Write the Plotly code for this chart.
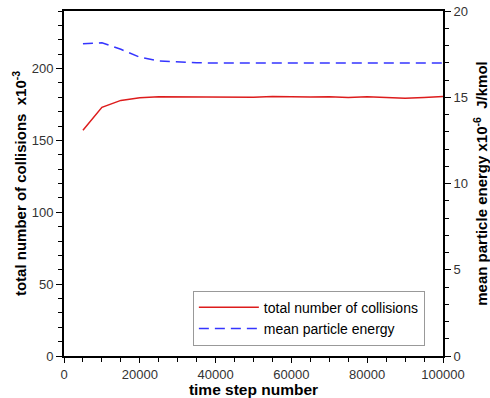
import plotly.graph_objects as go

steps = [5000, 10000, 15000, 20000, 25000, 30000, 35000, 40000, 45000, 50000,
         55000, 60000, 65000, 70000, 75000, 80000, 85000, 90000, 95000, 100000]
collisions = [157, 173, 177.8, 179.6, 180.3, 180.2, 180.0, 180.0, 179.6, 180.0,
              180.6, 180.2, 180.2, 180.3, 179.8, 180.3, 180.0, 179.3, 179.9, 180.6]
energy = [18.1, 18.16, 17.78, 17.32, 17.1, 17.04, 17.0, 16.98, 16.98, 16.98,
          16.98, 16.98, 16.98, 16.98, 16.98, 16.98, 16.98, 16.98, 16.98, 16.98]

font_family = "Liberation Sans, Arial, sans-serif"

fig = go.Figure()
fig.add_trace(go.Scatter(x=steps, y=collisions, mode="lines",
                         name="total number of collisions",
                         line=dict(color="#dd1c1c", width=1.5)))
fig.add_trace(go.Scatter(x=steps, y=energy, mode="lines", yaxis="y2",
                         name="mean particle energy",
                         line=dict(color="#3535ff", width=1.5, dash="10px,6px")))

tick_font = dict(family=font_family, size=13, color="#333333")
ytitle_font = dict(family=font_family, size=15, color="#000000")
xtitle_font = dict(family=font_family, size=15.5, color="#000000")

fig.update_layout(
    width=490, height=398,
    margin=dict(l=64, r=47, t=11, b=42),
    paper_bgcolor="white", plot_bgcolor="white",
    showlegend=True,
    legend=dict(x=0.34, y=0.03, xanchor="left", yanchor="bottom",
                bordercolor="#999999", borderwidth=1, bgcolor="white",
                font=dict(family=font_family, size=14, color="#000000"),
                itemwidth=60, tracegroupgap=0),
    xaxis=dict(range=[0, 100000], tickvals=[0, 20000, 40000, 60000, 80000, 100000],
               ticktext=["0", "20000", "40000", "60000", "80000", "100000"],
               automargin=False,
               showgrid=False, zeroline=False, showline=True, linecolor="black",
               linewidth=2, mirror=True, ticks="outside", ticklen=5, tickwidth=1,
               tickcolor="black",
               minor=dict(dtick=5000, ticks="outside", ticklen=4, tickcolor="black"),
               tickfont=tick_font,
               title=dict(text="<b>time step number</b>", font=xtitle_font, standoff=2)),
    yaxis=dict(range=[0, 240], tickvals=[0, 50, 100, 150, 200],
               automargin=False,
               showgrid=False, zeroline=False, showline=True, linecolor="black",
               linewidth=2, ticks="outside", ticklen=6, tickwidth=1, tickcolor="black",
               minor=dict(dtick=10, ticks="outside", ticklen=4, tickcolor="black"),
               tickfont=tick_font,
               title=dict(text="<b>total number of collisions  x10<sup>-3</sup></b>",
                          font=ytitle_font, standoff=1)),
    yaxis2=dict(range=[0, 20], tickvals=[0, 5, 10, 15, 20], overlaying="y", side="right",
                automargin=False,
                showgrid=False, zeroline=False, showline=True, linecolor="black",
                linewidth=2, ticks="outside", ticklen=6, tickwidth=1, tickcolor="black",
                minor=dict(dtick=1, ticks="outside", ticklen=4, tickcolor="black"),
                tickfont=tick_font,
                title=dict(text="<b>mean particle energy x10<sup>-6</sup>  J/kmol</b>",
                           font=ytitle_font, standoff=10)),
)

fig.write_html("out.html", config={"displayModeBar": False},
               post_script="document.body.style.margin='0';document.body.style.overflow='hidden';")
